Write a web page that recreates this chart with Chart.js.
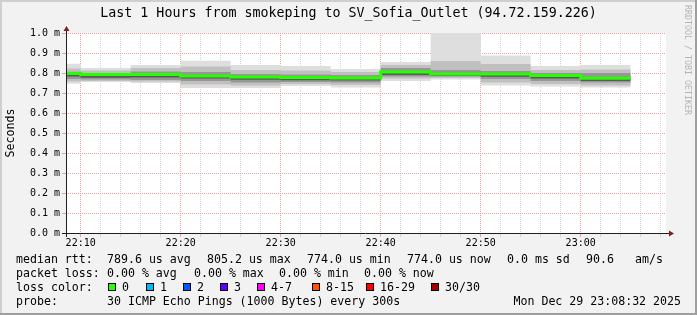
<!DOCTYPE html>
<html>
<head>
<meta charset="utf-8">
<script src="https://cdn.jsdelivr.net/npm/chart.js@4.4.1/dist/chart.umd.min.js"></script>
<style>
  html, body { margin: 0; padding: 0; background: #f2f2f2; }
  canvas { display: block; }
</style>
</head>
<body>
<canvas id="smoke" width="697" height="315"></canvas>
<script>
// 5 minute steps (end time of each step), values in ms
const stepEnds = ["22:10", "22:15", "22:20", "22:25", "22:30", "22:35", "22:40", "22:45", "22:50", "22:55", "23:00", "23:05"];
const rttMin = [0.746, 0.755, 0.750, 0.725, 0.725, 0.735, 0.727, 0.760, 0.768, 0.737, 0.732, 0.727];
const rttP10 = [0.758, 0.760, 0.757, 0.742, 0.738, 0.745, 0.740, 0.772, 0.775, 0.752, 0.745, 0.738];
const rttP25 = [0.770, 0.768, 0.765, 0.760, 0.752, 0.755, 0.752, 0.782, 0.783, 0.770, 0.760, 0.752];
const rttP40 = [0.782, 0.776, 0.778, 0.772, 0.766, 0.764, 0.763, 0.790, 0.786, 0.781, 0.773, 0.760];
const rttMedian = [0.798, 0.792, 0.793, 0.785, 0.780, 0.777, 0.775, 0.805, 0.795, 0.795, 0.787, 0.774];
const rttP60 = [0.800, 0.795, 0.797, 0.790, 0.784, 0.781, 0.779, 0.808, 0.799, 0.798, 0.790, 0.778];
const rttP75 = [0.806, 0.800, 0.808, 0.805, 0.795, 0.792, 0.790, 0.825, 0.815, 0.810, 0.800, 0.800];
const rttP90 = [0.822, 0.812, 0.825, 0.832, 0.815, 0.812, 0.805, 0.840, 0.860, 0.845, 0.815, 0.818];
const rttMax = [0.846, 0.825, 0.840, 0.861, 0.840, 0.835, 0.820, 0.855, 1.000, 0.887, 0.835, 0.840];

const xTickLabels = ["22:10", "22:20", "22:30", "22:40", "22:50", "23:00"];
const viewStart = "22:08:32";
const viewEnd = "23:08:32";

const lossLabels = ["0", "1", "2", "3", "4-7", "8-15", "16-29", "30/30"];
const lossColors = ["#26ff00", "#00b8ff", "#0059ff", "#5e00ff", "#ff00ff", "#ff5500", "#ff0000", "#a10000"];

const statsRtt = ["789.6 us avg", "805.2 us max", "774.0 us min", "774.0 us now", "0.0 ms sd", "90.6", "am/s"];
const statsLoss = ["0.00 % avg", "0.00 % max", "0.00 % min", "0.00 % now"];
const probeText = "30 ICMP Echo Pings (1000 Bytes) every 300s";
const stampText = "Mon Dec 29 23:08:32 2025";
const titleText = "Last 1 Hours from smokeping to SV_Sofia_Outlet (94.72.159.226)";

function toMin(s) {
  const p = s.split(":").map(Number);
  return p[0] * 60 + p[1] + (p[2] || 0) / 60;
}

function stepPoints(values) {
  const pts = [];
  values.forEach((v, i) => {
    const end = toMin(stepEnds[i]);
    pts.push({ x: end - 5, y: v }, { x: end, y: v });
  });
  return pts;
}

const MONO = "'DejaVu Sans Mono', monospace";
Chart.defaults.font.family = MONO;
Chart.defaults.color = "#000";

function band(lo, hi, color, order) {
  return [
    { data: stepPoints(lo), borderWidth: 0, pointRadius: 0, fill: false, order: order + 1 },
    { data: stepPoints(hi), borderWidth: 0, pointRadius: 0, fill: "-1", backgroundColor: color, order: order }
  ];
}

const decor = {
  id: "decor",
  beforeDraw(chart) {
    const c = chart.ctx, a = chart.chartArea;
    const W = chart.width, H = chart.height;
    c.save();
    c.fillStyle = "#f2f2f2";
    c.fillRect(0, 0, W, H);
    c.fillStyle = "#cfcfcf";
    c.fillRect(0, 0, W, 2);
    c.fillRect(0, 0, 2, H);
    c.fillStyle = "#9e9e9e";
    c.fillRect(0, H - 2, W, 2);
    c.fillRect(W - 2, 0, 2, H);
    c.fillStyle = "#fff";
    c.fillRect(a.left, a.top, a.right - a.left, a.bottom - a.top);
    c.restore();
  },
  afterDraw(chart) {
    const c = chart.ctx, a = chart.chartArea;
    c.save();
    // axes with arrows
    c.strokeStyle = "#1f1f1f";
    c.lineWidth = 1;
    c.beginPath();
    c.moveTo(a.left - 4, a.bottom + 0.5);
    c.lineTo(a.right + 3, a.bottom + 0.5);
    c.moveTo(a.left + 0.5, a.bottom + 4);
    c.lineTo(a.left + 0.5, a.top - 2);
    c.stroke();
    c.fillStyle = "#801f1f";
    c.beginPath();
    c.moveTo(a.right + 3, a.bottom - 2.5);
    c.lineTo(a.right + 8, a.bottom + 0.5);
    c.lineTo(a.right + 3, a.bottom + 3.5);
    c.closePath();
    c.fill();
    c.beginPath();
    c.moveTo(a.left - 2.5, a.top - 2);
    c.lineTo(a.left + 0.5, a.top - 7);
    c.lineTo(a.left + 3.5, a.top - 2);
    c.closePath();
    c.fill();

    // title
    c.fillStyle = "#000";
    c.textBaseline = "middle";
    c.textAlign = "center";
    c.font = "13.3px " + MONO;
    c.fillText(titleText, chart.width / 2, 14);

    // y axis title
    c.save();
    c.translate(11, (a.top + a.bottom) / 2);
    c.rotate(-Math.PI / 2);
    c.font = "11.6px " + MONO;
    c.fillText("Seconds", 0, 0);
    c.restore();

    // watermark
    c.save();
    c.translate(687, 5);
    c.rotate(Math.PI / 2);
    c.textAlign = "left";
    c.fillStyle = "#b4b4b4";
    c.font = "8.3px " + MONO;
    c.fillText("RRDTOOL / TOBI OETIKER", 0, 0);
    c.restore();

    // legend block
    c.textAlign = "left";
    c.font = "11.6px " + MONO;
    const rowY = [259.5, 273.5, 287.5, 301.5];
    c.fillText("median rtt:", 16, rowY[0]);
    const rttX = [107, 207, 307, 407, 507, 586, 635];
    statsRtt.forEach((t, i) => c.fillText(t, rttX[i], rowY[0]));
    c.fillText("packet loss:", 16, rowY[1]);
    const lossX = [107, 194, 279, 364];
    statsLoss.forEach((t, i) => c.fillText(t, lossX[i], rowY[1]));
    c.fillText("loss color:", 16, rowY[2]);
    const boxX = [108, 146, 183, 220, 257, 312, 366, 431];
    lossLabels.forEach((t, i) => {
      c.fillStyle = lossColors[i];
      c.fillRect(boxX[i], 283, 8, 8);
      c.strokeStyle = "#000";
      c.strokeRect(boxX[i] + 0.5, 283.5, 7, 7);
      c.fillStyle = "#000";
      c.fillText(t, boxX[i] + 14, rowY[2]);
    });
    c.fillText("probe:", 16, rowY[3]);
    c.fillText(probeText, 107, rowY[3]);
    c.textAlign = "right";
    c.fillText(stampText, 681, rowY[3]);
    c.restore();
  }
};

const majorGrid = "rgb(238,160,160)";
const minorGrid = "rgb(212,212,212)";

new Chart(document.getElementById("smoke"), {
  type: "line",
  data: {
    datasets: [
      ...band(rttMin, rttMax, "#dedede", 10),
      ...band(rttP10, rttP90, "#c0c0c0", 7),
      ...band(rttP25, rttP75, "#979797", 4),
      ...band(rttP40, rttP60, "#5a5a5a", 1),
      {
        data: stepPoints(rttMedian),
        borderColor: lossColors[0],
        borderWidth: 3,
        pointRadius: 0,
        fill: false,
        tension: 0,
        borderCapStyle: "butt",
        borderJoinStyle: "miter",
        order: 0
      }
    ]
  },
  options: {
    responsive: false,
    animation: false,
    devicePixelRatio: 1,
    layout: { padding: { top: 33, right: 31, left: 0, bottom: 0 } },
    plugins: { legend: { display: false }, tooltip: { enabled: false }, title: { display: false } },
    scales: {
      x: {
        type: "linear",
        min: toMin(viewStart),
        max: toMin(viewEnd),
        afterFit(scale) { scale.height = 82; },
        afterBuildTicks(scale) {
          const ticks = [];
          for (let v = 1330; v <= 1388; v += 2) ticks.push({ value: v });
          scale.ticks = ticks;
        },
        ticks: {
          autoSkip: false,
          maxRotation: 0,
          padding: 0,
          font: { size: 10 },
          callback(v) {
            const hm = String(Math.floor(v / 60)).padStart(2, "0") + ":" + String(v % 60).padStart(2, "0");
            return xTickLabels.includes(hm) ? hm : "";
          }
        },
        grid: {
          color: (ctx) => (ctx.tick && ctx.tick.value % 10 === 0 ? majorGrid : minorGrid),
          tickColor: (ctx) => (ctx.tick && ctx.tick.value % 10 === 0 ? majorGrid : minorGrid),
          tickLength: 4,
          lineWidth: 1
        },
        border: { display: false, dash: [1, 1] }
      },
      y: {
        min: 0,
        max: 1.0,
        afterFit(scale) { scale.width = 66; },
        ticks: {
          stepSize: 0.1,
          padding: 2,
          font: { size: 10 },
          callback: (v) => v.toFixed(1) + " m"
        },
        grid: { color: majorGrid, tickColor: majorGrid, tickLength: 4, lineWidth: 1 },
        border: { display: false, dash: [1, 1] }
      }
    }
  },
  plugins: [decor]
});
</script>
</body>
</html>
